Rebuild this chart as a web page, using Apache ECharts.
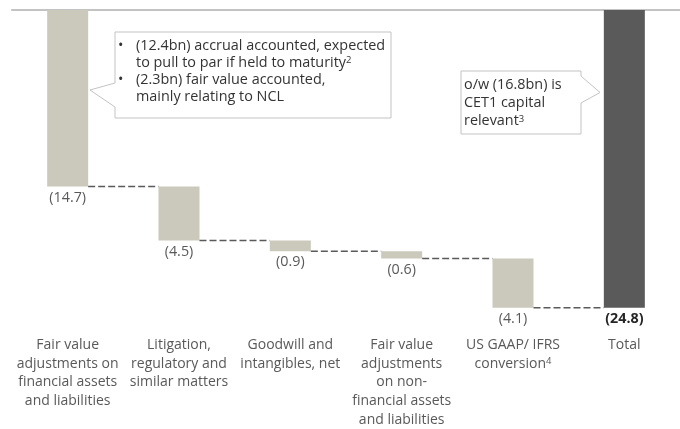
<!DOCTYPE html>
<html>
<head>
<meta charset="utf-8">
<script src="https://cdn.jsdelivr.net/npm/echarts@6/dist/echarts.min.js"></script>
<style>html,body{margin:0;padding:0;background:#fff;}#c{width:680px;height:429px;}</style>
</head>
<body>
<div id="c"></div>
<script>
const categories = [
  'Fair value\nadjustments on\nfinancial assets\nand liabilities',
  'Litigation,\nregulatory and\nsimilar matters',
  'Goodwill and\nintangibles, net',
  'Fair value\nadjustments\non non-\nfinancial assets\nand liabilities',
  'US GAAP/ IFRS\nconversion⁴',
  'Total'
];
const values = [14.7, 4.5, 0.9, 0.6, 4.1, 24.8];
const valueLabels = ['(14.7)', '(4.5)', '(0.9)', '(0.6)', '(4.1)', '(24.8)'];
const isTotal = [false, false, false, false, false, true];
const note1 = [
  '(12.4bn) accrual accounted, expected\nto pull to par if held to maturity²',
  '(2.3bn) fair value accounted,\nmainly relating to NCL'
];
const note2 = 'o/w (16.8bn) is\nCET1 capital\nrelevant³';

const FONT = '"Open Sans", "Noto Sans", sans-serif';
const sup = s => s.replace(/[²³⁴]/g, m => '{sup|' + ({'²':'2','³':'3','⁴':'4'}[m]) + '}');

// base offsets for the floating bars
const bases = [];
let cum = 0;
values.forEach((v, i) => {
  if (isTotal[i]) { bases.push(0); }
  else { bases.push(cum); cum += v; }
});
const connectors = [];
for (let i = 0; i < values.length - 1; i++) {
  connectors.push([i, bases[i] + values[i]]);
}

const chart = echarts.init(document.getElementById('c'), null, {renderer: 'canvas'});
const BW = 41;
const NF = 14.4;
const option = {
  animation: false,
  grid: {left: 12, top: 10, width: 669, height: 320},
  xAxis: [
    {type: 'category', data: categories, position: 'top',
     axisLine: {show: true, onZero: false, lineStyle: {color: '#c3c3c3', width: 2}},
     axisTick: {show: false}, axisLabel: {show: false}},
    {type: 'category', data: categories, position: 'bottom',
     axisLine: {show: false, onZero: false}, axisTick: {show: false},
     axisLabel: {show: true, interval: 0, margin: 8, color: '#595959', fontSize: 14,
       fontFamily: FONT, lineHeight: 18.7, align: 'center',
       formatter: v => sup(v),
       rich: {sup: {fontSize: 9.5, color: '#595959', fontFamily: FONT, verticalAlign: 'top', lineHeight: 10, padding: [2, 0, 0, 0]}}}}
  ],
  yAxis: {type: 'value', inverse: true, min: 0, max: 26.45, show: false, splitLine: {show: false}},
  series: [
    {type: 'bar', stack: 'w', xAxisIndex: 1, barWidth: BW, data: bases,
     itemStyle: {color: 'transparent'}, silent: true},
    {type: 'bar', stack: 'w', xAxisIndex: 1, barWidth: BW,
     data: values.map((v, i) => ({
       value: v,
       itemStyle: {color: isTotal[i] ? '#5a5a5a' : '#cac9bc'},
       label: isTotal[i] ? {color: '#262626', fontWeight: 'bold'} : {}
     })),
     label: {show: true, position: 'bottom', distance: 4, fontSize: 14.3, fontFamily: FONT, color: '#595959',
       formatter: p => valueLabels[p.dataIndex]}},
    {type: 'custom', xAxisIndex: 1, data: connectors, z: 3,
     renderItem: (params, api) => {
       const p = api.coord([api.value(0), api.value(1)]);
       const band = api.size([1, 0])[0];
       return {type: 'line', shape: {x1: p[0] + BW / 2, y1: p[1], x2: p[0] + band - BW / 2, y2: p[1]},
         style: {stroke: '#5a5a5a', lineWidth: 1.5, lineDash: [7, 3]}};
     }}
  ],
  graphic: [
    {type: 'polygon', shape: {points: [[115,32],[391,32],[391,118],[115,118],[115,107],[90,90],[115,83]]},
     style: {fill: '#fff', stroke: '#c3c3c3', lineWidth: 1}, z: 10},
    {type: 'text', left: 118, top: 37.5, z: 11, style: {text: '•', font: NF + 'px ' + FONT, fill: '#333', lineHeight: 17}},
    {type: 'text', left: 136, top: 37.5, z: 11, style: {text: sup(note1[0]), font: NF + 'px ' + FONT, fill: '#333', lineHeight: 17,
      rich: {sup: {fontSize: 9.5, fill: '#333', fontFamily: FONT, verticalAlign: 'top', lineHeight: 9, padding: [1,0,0,0]}}}},
    {type: 'text', left: 118, top: 71, z: 11, style: {text: '•', font: NF + 'px ' + FONT, fill: '#333', lineHeight: 17}},
    {type: 'text', left: 136, top: 71, z: 11, style: {text: note1[1], font: NF + 'px ' + FONT, fill: '#333', lineHeight: 17}},
    {type: 'polygon', shape: {points: [[461,71],[581,71],[581,76],[600,92.5],[581,103],[581,134],[461,134]]},
     style: {fill: '#fff', stroke: '#c3c3c3', lineWidth: 1}, z: 10},
    {type: 'text', left: 464, top: 75.5, z: 11, style: {text: sup(note2), font: NF + 'px ' + FONT, fill: '#333', lineHeight: 18.3,
      rich: {sup: {fontSize: 9.5, fill: '#333', fontFamily: FONT, verticalAlign: 'top', lineHeight: 9, padding: [2,0,0,0]}}}}
  ]
};
chart.setOption(option);
</script>
</body>
</html>
